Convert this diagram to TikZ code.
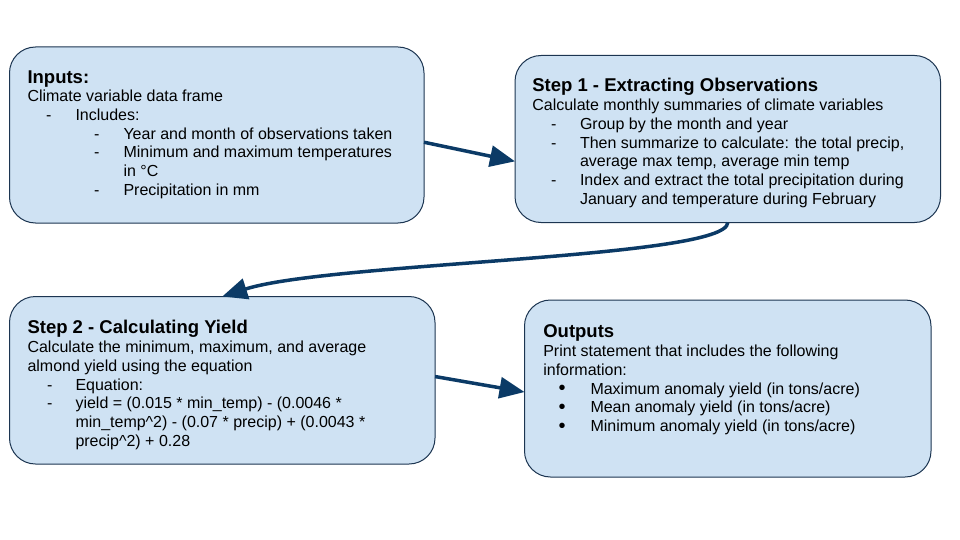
\documentclass[tikz,border=0pt]{standalone}
\usepackage{fontspec}
\setmainfont{Liberation Sans}
\usetikzlibrary{arrows.meta}
\definecolor{boxc}{HTML}{CFE2F3}
\definecolor{bordc}{HTML}{1C3551}
\definecolor{arrc}{HTML}{0B3A66}
\newcommand\bodyfnt{\fontsize{16}{19}\selectfont}
\newcommand\titlefnt{\fontsize{18.5}{22}\selectfont\bfseries}
\newcommand\bulfnt{\fontsize{20}{19}\selectfont}
\tikzset{
  box/.style={draw=bordc, fill=boxc, line width=1pt, rounded corners=26pt,
    anchor=north west, inner sep=0pt, outer sep=0pt},
  ln/.style={anchor=base west, inner sep=0pt, outer sep=0pt, font=\bodyfnt},
  bul/.style={anchor=base west, inner sep=0pt, outer sep=0pt, font=\bulfnt},
  ttl/.style={anchor=base west, inner sep=0pt, outer sep=0pt, font=\titlefnt},
  conn/.style={draw=arrc, line width=3.5pt, -{Triangle[length=25pt,width=21pt]}}
}
\begin{document}
\begin{tikzpicture}[x=1pt,y=-1pt]
\useasboundingbox (0,0) rectangle (960,540);
% boxes
\node[box, minimum width=414.5pt, minimum height=176pt] (inp) at (9.5,47) {};
\node[box, minimum width=425.5pt, minimum height=167pt] (st1) at (515,55.5) {};
\node[box, minimum width=425.5pt, minimum height=167.5pt] (st2) at (9.5,296.5) {};
\node[box, minimum width=406.5pt, minimum height=177pt] (outp) at (524.5,300) {};
% Inputs text
\node[ttl] (t1) at (27.5,83.2) {Inputs:};
\node[ln] (a1) at (27.5,101.5) {Climate variable data frame};
\node[ln] (a2d) at (46,120.3) {-};
\node[ln] (a2) at (75.5,120.3) {Includes:};
\node[ln] (a3d) at (94,139.1) {-};
\node[ln] (a3) at (123.5,139.1) {Year and month of observations taken};
\node[ln] (a4d) at (94,157.9) {-};
\node[ln] (a4) at (123.5,157.9) {Minimum and maximum temperatures};
\node[ln] (a5) at (123.5,176.7) {in °C};
\node[ln] (a6d) at (94,195.5) {-};
\node[ln] (a6) at (123.5,195.5) {Precipitation in mm};
% Step 1 text
\node[ttl] (t2) at (532.3,92) {Step 1 - Extracting Observations};
\node[ln] (b1) at (532.3,110.5) {Calculate monthly summaries of climate variables};
\node[ln] (b2d) at (551,129.3) {-};
\node[ln] (b2) at (580,129.3) {Group by the month and year};
\node[ln] (b3d) at (551,148.1) {-};
\node[ln] (b3) at (580,148.1) {Then summarize to calculate: the total precip,};
\node[ln] (b4) at (580,166.9) {average max temp, average min temp};
\node[ln] (b5d) at (551,185.7) {-};
\node[ln] (b5) at (580,185.7) {Index and extract the total precipitation during};
\node[ln] (b6) at (580,204.5) {January and temperature during February};
% Step 2 text
\node[ttl] (t3) at (27.5,333.2) {Step 2 - Calculating Yield};
\node[ln] (c1) at (27.5,352.5) {Calculate the minimum, maximum, and average};
\node[ln] (c2) at (27.5,371.3) {almond yield using the equation};
\node[ln] (c3d) at (47,390.1) {-};
\node[ln] (c3) at (75.5,390.1) {Equation:};
\node[ln] (c4d) at (47,408.9) {-};
\node[ln] (c4) at (75.5,408.9) {yield = (0.015 * min\_temp) - (0.0046 *};
\node[ln] (c5) at (75.5,427.7) {min\_temp\textasciicircum 2) - (0.07 * precip) + (0.0043 *};
\node[ln] (c6) at (75.5,446.5) {precip\textasciicircum 2) + 0.28};
% Outputs text
\node[ttl] (t4) at (543.3,337.2) {Outputs};
\node[ln] (d1) at (543.3,356.5) {Print statement that includes the following};
\node[ln] (d2) at (543.3,375.3) {information:};
\node[bul] (d3b) at (558.5,394.6) {•};
\node[ln] (d3) at (590.5,394.1) {Maximum anomaly yield (in tons/acre)};
\node[bul] (d4b) at (558.5,413.4) {•};
\node[ln] (d4) at (590.5,412.9) {Mean anomaly yield (in tons/acre)};
\node[bul] (d5b) at (558.5,432.2) {•};
\node[ln] (d5) at (590.5,431.7) {Minimum anomaly yield (in tons/acre)};
% connectors
\draw[conn] (inp.-2.5) -- (st1.186.4);
\draw[conn] (st1.south) .. controls ++(0,36) and (330,262) .. (st2.north);
\draw[conn] (st2.1.3) -- (outp.181.5);
\end{tikzpicture}
\end{document}
